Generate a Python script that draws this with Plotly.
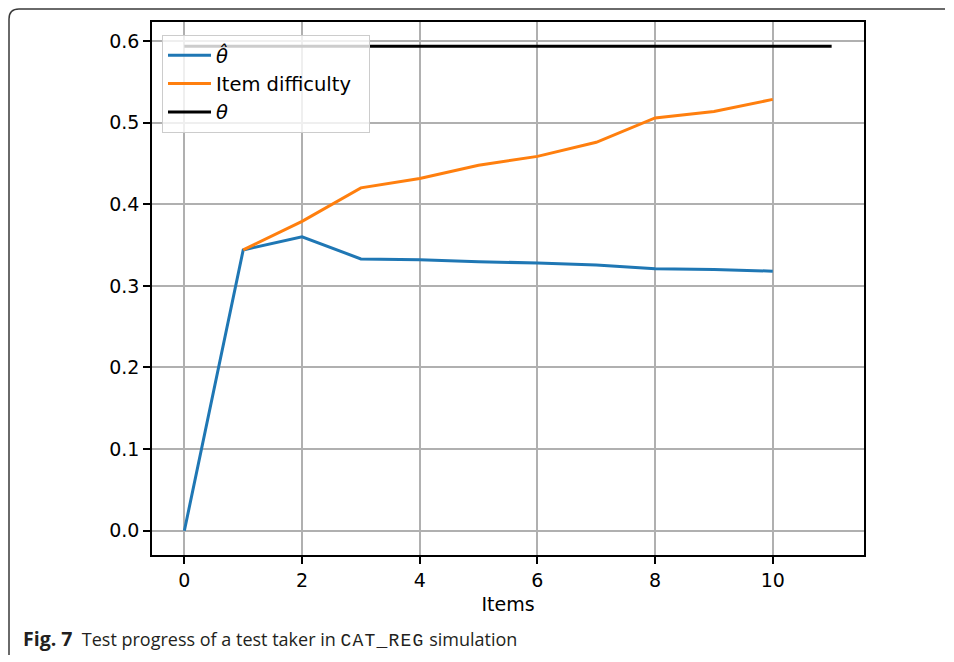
import plotly.graph_objects as go

items = [0, 1, 2, 3, 4, 5, 6, 7, 8, 9, 10]
theta_hat = [0.0, 0.344, 0.360, 0.333, 0.332, 0.3295, 0.328, 0.3255, 0.321, 0.320, 0.318]
item_x = [1, 2, 3, 4, 5, 6, 7, 8, 9, 10]
item_difficulty = [0.344, 0.379, 0.420, 0.4316, 0.4476, 0.4586, 0.4758, 0.5057, 0.5136, 0.5284]
theta_x = [0, 11]
theta_true = [0.5935, 0.5935]
x_ticks = [0, 2, 4, 6, 8, 10]
y_ticks = [0.0, 0.1, 0.2, 0.3, 0.4, 0.5, 0.6]

# page has 8px body margin: work in page pixel coordinates, convert to figure
OFF = 8
W, H = 954 - OFF, 662 - OFF
PL, PR, PT, PB = 152, 864, 22, 555   # plot area edges in page pixels
L, T = PL - OFF, PT - OFF
R, B = W - (PR - OFF), H - (PB - OFF)
pw, ph = PR - PL, PB - PT

def px(x):
    return (x - PL) / pw

def py(y):
    return 1 - (y - PT) / ph

FONT = "DejaVu Sans"

fig = go.Figure()
fig.add_trace(go.Scatter(x=items, y=theta_hat, mode="lines", name="<i>θ̂</i>",
                         line=dict(color="#1f77b4", width=3)))
fig.add_trace(go.Scatter(x=item_x, y=item_difficulty, mode="lines", name="Item difficulty  ",
                         line=dict(color="#ff7f0e", width=3)))
fig.add_trace(go.Scatter(x=theta_x, y=theta_true, mode="lines", name="<i>θ</i>",
                         line=dict(color="black", width=3)))

ymin = min(theta_hat + item_difficulty + theta_true)
ymax = max(theta_hat + item_difficulty + theta_true)
pad = 0.05 * (ymax - ymin)
xmin, xmax = min(items + theta_x), max(items + theta_x)
xpad = 0.05 * (xmax - xmin)

axis_common = dict(showline=True, linecolor="black", linewidth=1.5, mirror=True,
                   ticks="outside", ticklen=7, tickwidth=1.5, tickcolor="black",
                   showgrid=True, gridcolor="#b0b0b0", gridwidth=1.5, zeroline=False,
                   tickfont=dict(family=FONT, size=19, color="black"))

fig.update_layout(
    width=W, height=H,
    margin=dict(l=L, r=R, t=T, b=B),
    paper_bgcolor="white", plot_bgcolor="white",
    font=dict(family=FONT, size=19, color="black"),
    showlegend=True,
    legend=dict(x=px(162), y=py(35), xanchor="left", yanchor="top",
                bgcolor="rgba(255,255,255,0.8)", bordercolor="#cccccc", borderwidth=1,
                itemwidth=43, tracegroupgap=0,
                font=dict(family=FONT, size=19.5, color="black")),
    xaxis=dict(range=[xmin - xpad, xmax + xpad], tickvals=x_ticks,
               title=dict(text="Items", font=dict(family=FONT, size=19), standoff=8),
               **axis_common),
    yaxis=dict(range=[ymin - pad, ymax + pad], tickvals=y_ticks, tickformat=".1f",
               **axis_common),
)

# caption
fig.add_annotation(
    xref="paper", yref="paper", x=px(21), y=py(638), xanchor="left", yanchor="middle",
    showarrow=False,
    text=('<b style="font-size:19.5px">Fig. 7</b>  Test progress of a test taker in '
          '<span style="font-family:Liberation Mono,Courier New,monospace;font-size:18px;letter-spacing:1.2px">CAT_REG</span>'
          ' simulation'),
    font=dict(family="Open Sans", size=18, color="#231f20"),
)

# figure frame (top and left edges with rounded corner)
x0, y0, x1, y1, r = 9, 9, 945, 655, 10
fig.add_shape(type="path", xref="paper", yref="paper",
              path=(f"M {px(x0)},{py(y1)} L {px(x0)},{py(y0 + r)} "
                    f"Q {px(x0)},{py(y0)} {px(x0 + r)},{py(y0)} L {px(x1)},{py(y0)}"),
              line=dict(color="#3a3a3a", width=1.5))

fig.write_html("out.html")
